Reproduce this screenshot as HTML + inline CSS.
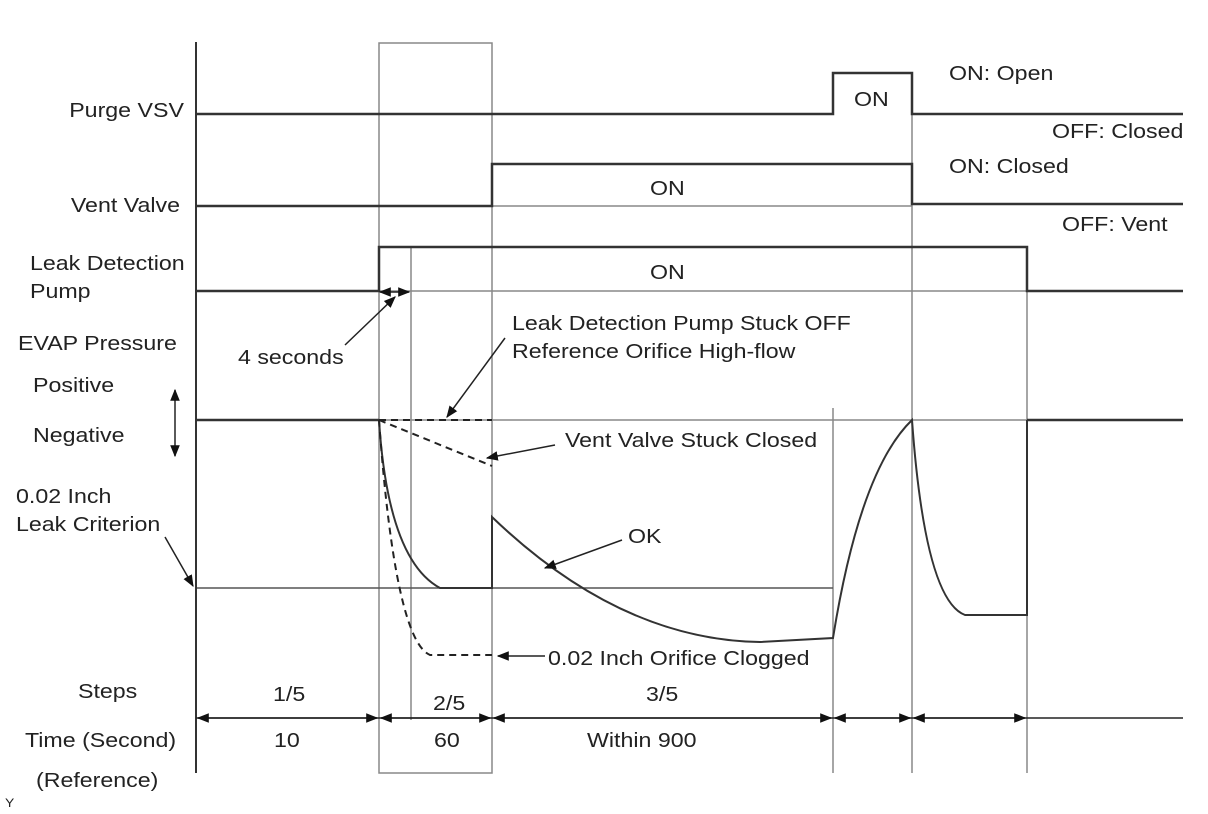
<!DOCTYPE html>
<html><head><style>body{margin:0;background:#fff}svg{display:block}text{font-family:"Liberation Sans",sans-serif;font-size:20px;fill:#222;transform-box:fill-box;transform-origin:left center;transform:scaleX(1.16)}text.e{transform-origin:right center}</style></head><body>
<svg width="1208" height="814" viewBox="0 0 1208 814" xmlns="http://www.w3.org/2000/svg">
<defs><marker id="a" viewBox="0 0 10 10" refX="9" refY="5" markerWidth="8" markerHeight="8" orient="auto-start-reverse"><path d="M0,1 L10,5 L0,9z" fill="#111"/></marker></defs>
<g stroke="#888" stroke-width="1.5" fill="none">
<rect x="379" y="43" width="113" height="730"/>
<line x1="411" y1="248" x2="411" y2="720"/>
<line x1="833" y1="408" x2="833" y2="773"/>
<line x1="912" y1="95" x2="912" y2="773"/>
<line x1="1027" y1="291" x2="1027" y2="773"/>
<line x1="492" y1="206" x2="912" y2="206"/>
<line x1="379" y1="291" x2="1027" y2="291"/>
<line x1="379" y1="420" x2="1027" y2="420"/>
<line x1="196" y1="588" x2="833" y2="588" stroke="#555"/>
</g>
<g stroke="#333" stroke-width="2.5" fill="none">
<line x1="196" y1="42" x2="196" y2="773" stroke-width="2"/>
<polyline points="196,114 833,114 833,73 912,73 912,114 1183,114"/>
<polyline points="196,206 492,206 492,164 912,164 912,204 1183,204"/>
<polyline points="196,291 379,291 379,247 1027,247 1027,291 1183,291"/>
<line x1="196" y1="420" x2="379" y2="420"/>
<line x1="1027" y1="420" x2="1183" y2="420"/>
<path d="M379,420 Q388,560 440,588 L492,588 L492,517 Q620,640 760,642 L833,638 Q860,470 912,420 Q925,600 965,615 L1027,615 L1027,420" stroke-width="2"/>
</g>
<g stroke="#222" stroke-width="2" fill="none" stroke-dasharray="7,5">
<path d="M379,420 Q395,640 430,655 L492,655"/>
<line x1="379" y1="420" x2="492" y2="420"/>
<line x1="379" y1="420" x2="492" y2="466"/>
</g>
<g stroke="#222" stroke-width="1.5" fill="none">
<line x1="196" y1="718" x2="1183" y2="718"/>
<line x1="198" y1="718" x2="377" y2="718" marker-start="url(#a)" marker-end="url(#a)"/>
<line x1="381" y1="718" x2="490" y2="718" marker-start="url(#a)" marker-end="url(#a)"/>
<line x1="494" y1="718" x2="831" y2="718" marker-start="url(#a)" marker-end="url(#a)"/>
<line x1="835" y1="718" x2="910" y2="718" marker-start="url(#a)" marker-end="url(#a)"/>
<line x1="914" y1="718" x2="1025" y2="718" marker-start="url(#a)" marker-end="url(#a)"/>
<line x1="380" y1="292" x2="409" y2="292" marker-start="url(#a)" marker-end="url(#a)"/>
<line x1="345" y1="345" x2="395" y2="297" marker-end="url(#a)"/>
<line x1="505" y1="338" x2="447" y2="417" marker-end="url(#a)"/>
<line x1="555" y1="445" x2="487" y2="458" marker-end="url(#a)"/>
<line x1="622" y1="540" x2="545" y2="568" marker-end="url(#a)"/>
<line x1="545" y1="656" x2="498" y2="656" marker-end="url(#a)"/>
<line x1="165" y1="537" x2="193" y2="586" marker-end="url(#a)"/>
<line x1="175" y1="390" x2="175" y2="456" marker-start="url(#a)" marker-end="url(#a)"/>
</g>
<text class="e" x="184" y="117" text-anchor="end">Purge VSV</text>
<text class="e" x="180" y="212" text-anchor="end">Vent Valve</text>
<text x="30" y="270">Leak Detection</text>
<text x="30" y="298">Pump</text>
<text x="18" y="350">EVAP Pressure</text>
<text x="33" y="392">Positive</text>
<text x="33" y="442">Negative</text>
<text x="16" y="503">0.02 Inch</text>
<text x="16" y="531">Leak Criterion</text>
<text x="78" y="698">Steps</text>
<text x="25" y="747">Time (Second)</text>
<text x="36" y="787">(Reference)</text>
<text x="5" y="807" style="font-size:12px">Y</text>
<text x="854" y="106">ON</text>
<text x="949" y="80">ON: Open</text>
<text x="1052" y="138">OFF: Closed</text>
<text x="650" y="195">ON</text>
<text x="949" y="173">ON: Closed</text>
<text x="1062" y="231">OFF: Vent</text>
<text x="650" y="279">ON</text>
<text x="238" y="364">4 seconds</text>
<text x="512" y="330">Leak Detection Pump Stuck OFF</text>
<text x="512" y="358">Reference Orifice High-flow</text>
<text x="565" y="447">Vent Valve Stuck Closed</text>
<text x="628" y="543">OK</text>
<text x="548" y="665">0.02 Inch Orifice Clogged</text>
<text x="273" y="701">1/5</text>
<text x="433" y="710">2/5</text>
<text x="646" y="701">3/5</text>
<text x="274" y="747">10</text>
<text x="434" y="747">60</text>
<text x="587" y="747">Within 900</text>
</svg>
</body></html>
